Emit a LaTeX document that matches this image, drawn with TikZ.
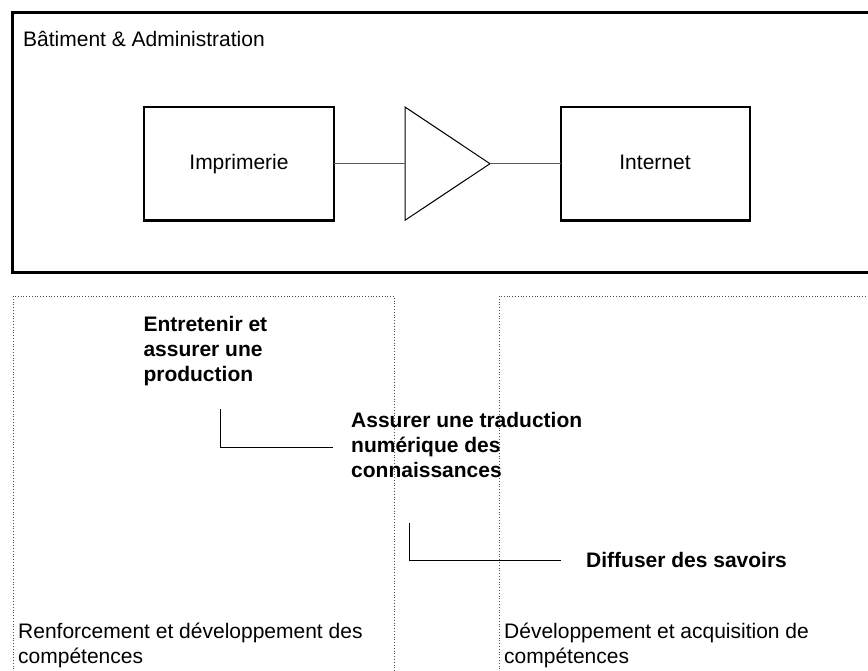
\documentclass[tikz,border=0pt]{standalone}
\usepackage{fontspec}
\setmainfont{Liberation Sans}
\begin{document}
\begin{tikzpicture}[x=1pt,y=-1pt,
  lbl/.style={font=\fontsize{21}{25}\selectfont, inner sep=0pt, anchor=base west},
  blbl/.style={font=\fontsize{21}{25}\selectfont\bfseries, inner sep=0pt, anchor=base west},
  unit/.style={draw=black, line width=2.6pt},
  link/.style={draw=black!65, line width=1.2pt},
  elbow/.style={draw=black, line width=1pt},
  zone/.style={draw=black!70, dotted, line width=0.8pt}]
\useasboundingbox (0,0) rectangle (868,671);
\clip (0,0) rectangle (868,671);
% top frame
\draw[line width=3pt] (12.5,12.3) rectangle (880,273);
\node[lbl] (bat) at (23,46.5) {Bâtiment \& Administration};
% units
\draw[unit] (144,107) rectangle (334,220.7);
\node[lbl, anchor=base] (imp) at (239,170) {Imprimerie};
\draw[unit] (561,107) rectangle (750,220.7);
\node[lbl, anchor=base] (net) at (655,170) {Internet};
\coordinate (impE) at (334,163.7);
\coordinate (netW) at (561,163.7);
\coordinate (triW) at (405,163.7);
\coordinate (triE) at (490,163.7);
\draw[line width=1pt] (405,107) -- (triE) -- (405,220.3) -- cycle;
\draw[link] (impE) -- (triW);
\draw[link] (triE) -- (netW);
% dotted zones
\draw[zone] (13,700) -- (13,296) -- (394,296) -- (394,700);
\draw[zone] (499,700) -- (499,296) -- (880,296);
% bold labels
\node[blbl] (ent) at (143.3,331) {\begin{tabular}[t]{@{}l@{}}Entretenir et\\assurer une\\production\end{tabular}};
\node[blbl] (ass) at (351,427) {\begin{tabular}[t]{@{}l@{}}Assurer une traduction\\numérique des\\connaissances\end{tabular}};
\node[blbl] (dif) at (586,567) {Diffuser des savoirs};
% elbows
\coordinate (e1a) at (220,409);
\coordinate (e1b) at (333,447);
\draw[elbow] (e1a) |- (e1b);
\coordinate (e2a) at (409,523);
\coordinate (e2b) at (561,560);
\draw[elbow] (e2a) |- (e2b);
% zone labels
\node[lbl] (ren) at (18,638) {\begin{tabular}[t]{@{}l@{}}Renforcement et développement des\\compétences\end{tabular}};
\node[lbl] (dev) at (504,638) {\begin{tabular}[t]{@{}l@{}}Développement et acquisition de\\compétences\end{tabular}};
\end{tikzpicture}
\end{document}
